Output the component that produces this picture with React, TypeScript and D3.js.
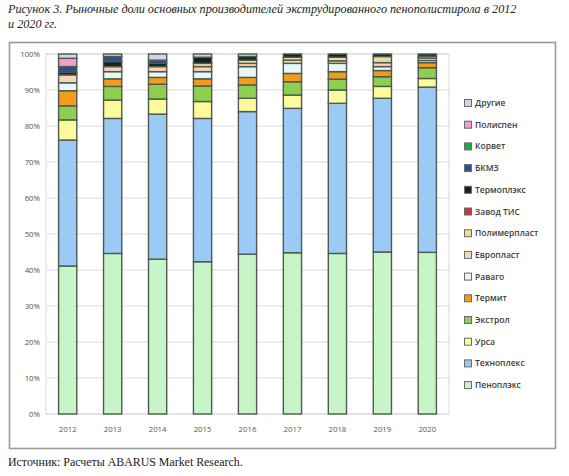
import { scaleBand, scaleLinear, stack } from "d3";

const years = ["2012", "2013", "2014", "2015", "2016", "2017", "2018", "2019", "2020"];

// bottom → top stacking order
const companies = [
  "Пеноплэкс",
  "Техноплекс",
  "Урса",
  "Экстрол",
  "Термит",
  "Раваго",
  "Европласт",
  "Полимерпласт",
  "Завод ТИС",
  "Термоплэкс",
  "БКМЗ",
  "Корвет",
  "Полиспен",
  "Другие",
];

const penoplex = [41.1, 44.6, 43.0, 42.3, 44.4, 44.8, 44.6, 45.0, 44.9];
const technoplex = [35.0, 37.5, 40.3, 39.8, 39.6, 40.1, 41.7, 42.7, 45.9];
const ursa = [5.6, 5.1, 4.2, 4.7, 3.7, 3.7, 3.7, 3.3, 2.4];
const extrol = [3.9, 3.8, 4.1, 4.3, 3.7, 3.7, 3.0, 2.7, 3.0];
const termit = [4.2, 2.1, 1.9, 2.0, 2.1, 2.3, 2.1, 1.7, 1.4];
const ravago = [2.2, 2.0, 1.6, 2.0, 3.0, 2.8, 2.3, 1.1, 0.6];
const evroplast = [2.2, 1.4, 1.4, 1.4, 0.9, 0.9, 0.7, 1.1, 0.7];
const polimerplast = [0, 0, 0, 0.9, 0.9, 0.8, 1.0, 1.7, 0.5];
const zavodTis = [0, 0, 0, 0, 0, 0, 0, 0, 0];
const termoplex = [0.7, 1.4, 0.9, 1.7, 1.0, 0.9, 0.9, 0.7, 0.6];
const bkmz = [1.6, 1.4, 0.9, 0, 0, 0, 0, 0, 0];
const korvet = [0, 0, 0, 0, 0, 0, 0, 0, 0];
const polispen = [2.3, 0, 0, 0, 0, 0, 0, 0, 0];
const others = [1.2, 0.7, 1.7, 0.9, 0.7, 0, 0, 0, 0];

const seriesValues = [
  penoplex,
  technoplex,
  ursa,
  extrol,
  termit,
  ravago,
  evroplast,
  polimerplast,
  zavodTis,
  termoplex,
  bkmz,
  korvet,
  polispen,
  others,
];

const yTicks = [0, 10, 20, 30, 40, 50, 60, 70, 80, 90, 100];

const colors: Record<string, string> = {
  Пеноплэкс: "#c8f5c8",
  Техноплекс: "#9ccaf6",
  Урса: "#fdfa9c",
  Экстрол: "#8fcf4f",
  Термит: "#f29c1e",
  Раваго: "#e6f7f6",
  Европласт: "#f9d4b6",
  Полимерпласт: "#ecdc9a",
  "Завод ТИС": "#c0393b",
  Термоплэкс: "#16221b",
  БКМЗ: "#2d4f8f",
  Корвет: "#1faa4a",
  Полиспен: "#f39ccd",
  Другие: "#d8d4e4",
};

const rows = years.map((year, i) => {
  const row: Record<string, number | string> = { year };
  companies.forEach((c, k) => {
    row[c] = seriesValues[k][i];
  });
  return row;
});

export default function App() {
  const width = 569;
  const height = 476;
  const plot = { left: 46, right: 449, top: 54, bottom: 414 };

  const x = scaleBand<string>()
    .domain(years)
    .range([plot.left, plot.right])
    .paddingInner(0.595)
    .paddingOuter(0.28);

  const y = scaleLinear().domain([0, 100]).range([plot.bottom, plot.top]);

  const layers = stack<Record<string, number | string>>()
    .keys(companies)
    .value((d, key) => d[key] as number)(rows);

  const legendItems = [...companies].reverse();

  return (
    <svg
      width={width}
      height={height}
      viewBox={`0 0 ${width} ${height}`}
      style={{ position: "absolute", left: 0, top: 0, background: "#fff" }}
    >
      <g fontFamily="'Liberation Serif', 'DejaVu Serif', serif" fontStyle="italic" fontSize="12.2" fill="#222">
        <text x={8} y={13}>
          Рисунок 3. Рыночные доли основных производителей экструдированного пенополистирола в 2012
        </text>
        <text x={8} y={28}>
          и 2020 гг.
        </text>
      </g>

      <rect x={9.5} y={42.5} width={546} height={406} fill="#fff" stroke="#9a9a9a" strokeWidth={1.6} />

      <rect
        x={plot.left}
        y={plot.top}
        width={plot.right - plot.left}
        height={plot.bottom - plot.top}
        fill="none"
        stroke="#d9d9d9"
      />

      {yTicks.map((t) => (
        <g key={t}>
          <line x1={plot.left} x2={plot.right} y1={y(t)} y2={y(t)} stroke="#d9d9d9" strokeWidth={1} />
          <text
            x={40}
            y={y(t) + 3}
            textAnchor="end"
            fontFamily="'Open Sans', sans-serif"
            fontSize="7.8"
            fill="#555"
          >
            {t}%
          </text>
        </g>
      ))}

      {layers.map((layer) => (
        <g key={layer.key}>
          {layer.map((d, i) =>
            d[1] - d[0] > 0 ? (
              <rect
                key={years[i]}
                x={x(years[i])}
                y={y(d[1])}
                width={x.bandwidth()}
                height={y(d[0]) - y(d[1])}
                fill={colors[layer.key]}
                stroke="#4e5a50"
                strokeWidth={1.4}
              />
            ) : null
          )}
        </g>
      ))}

      {years.map((yr) => (
        <text
          key={yr}
          x={(x(yr) ?? 0) + x.bandwidth() / 2}
          y={432}
          textAnchor="middle"
          fontFamily="'Open Sans', sans-serif"
          fontSize="7.8"
          fill="#555"
        >
          {yr}
        </text>
      ))}

      {legendItems.map((name, i) => {
        const ly = 103 + i * 21.7;
        return (
          <g key={name}>
            <rect x={464.5} y={ly - 3.5} width={7} height={7} fill={colors[name]} stroke="#6a6a6a" strokeWidth={1} />
            <text
              x={475}
              y={ly + 3}
              fontFamily="'Open Sans', sans-serif"
              fontWeight={600}
              fontSize="8.5"
              fill="#3c3c3c"
            >
              {name}
            </text>
          </g>
        );
      })}

      <text x={8} y={466} fontFamily="'Liberation Serif', serif" fontSize="11.9" fill="#222">
        Источник: Расчеты ABARUS Market Research.
      </text>
    </svg>
  );
}
